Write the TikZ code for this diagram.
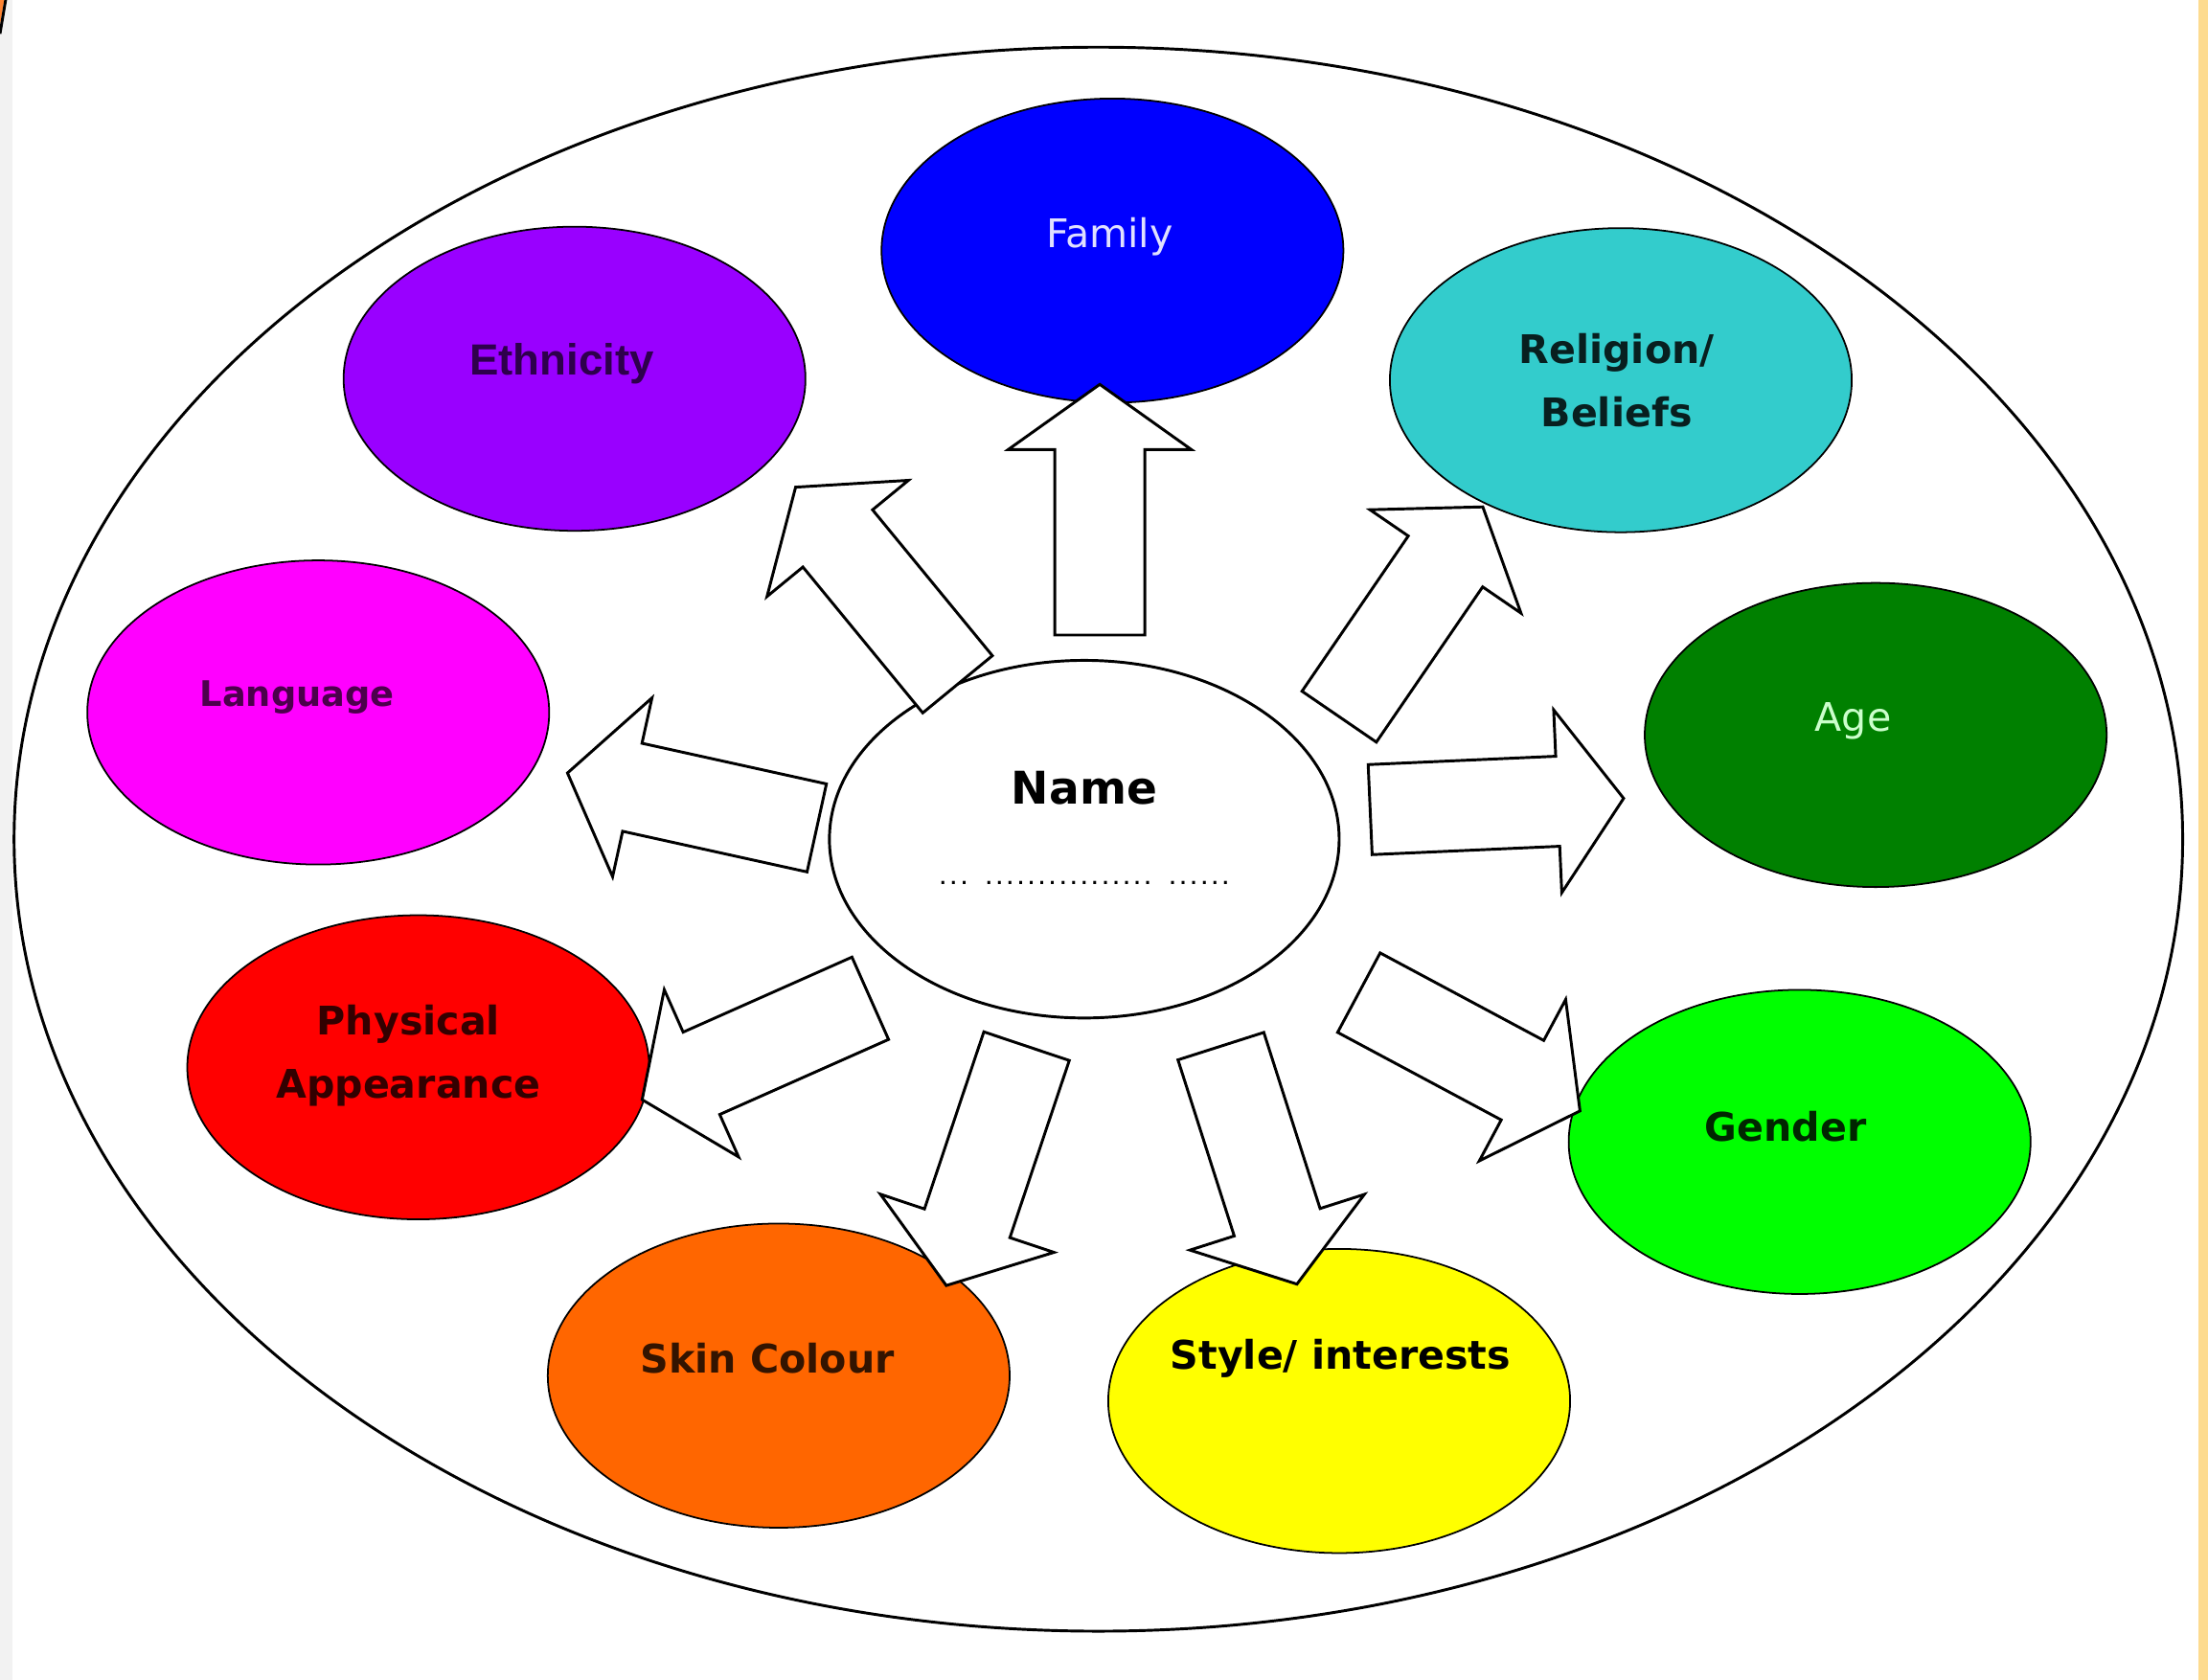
\documentclass[tikz,border=0pt]{standalone}
\usepackage{fontspec}
\setmainfont{DejaVu Sans}
\newfontfamily\arialfont{Liberation Sans}
\newfontfamily\dotsfont{DejaVu Sans Mono}
\usetikzlibrary{shapes.geometric, calc, positioning}

\definecolor{familyblue}{HTML}{0000FF}
\definecolor{ethnicpurple}{HTML}{9900FF}
\definecolor{religionteal}{HTML}{33CCCC}
\definecolor{languagepink}{HTML}{FF00FF}
\definecolor{agegreen}{HTML}{008000}
\definecolor{physicalred}{HTML}{FF0000}
\definecolor{gendergreen}{HTML}{00FF00}
\definecolor{skinorange}{HTML}{FF6600}
\definecolor{styleyellow}{HTML}{FFFF00}
\definecolor{edgegray}{HTML}{F2F2F2}
\definecolor{edgeorange}{HTML}{FDDB8F}

\tikzset{
   bubble/.style={
     ellipse, draw=black, line width=1.2pt,
     minimum width=328pt, minimum height=216pt, inner sep=0pt
   },
   tag/.style={
     font=\fontsize{28}{45}\selectfont\bfseries, align=center, inner sep=0pt
   },
   lighttag/.style={
     tag, font=\fontsize{28}{45}\selectfont
   },
   fatline/.style={draw=black, fill=white, line width=2pt, line join=miter},
   rimline/.style={draw=black, line width=2pt}
}

% block arrow from tail to tip
\newcommand{\fatarrow}[2]{%
  \path ($(#1)!0.74!(#2)$) coordinate (fa-h);
  \draw[fatline] ($(#1)!32pt!90:(#2)$) -- ($(fa-h)!32pt!90:(#2)$)
     -- ($(fa-h)!65pt!90:(#2)$) -- (#2) -- ($(fa-h)!65pt!-90:(#2)$)
     -- ($(fa-h)!32pt!-90:(#2)$) -- ($(#1)!32pt!-90:(#2)$) -- cycle;
}

\begin{document}
\begin{tikzpicture}[x=1pt, y=-1pt]
   \useasboundingbox (0,0) rectangle (1568,1193);
   \fill[white] (0,0) rectangle (1568,1193);
   \fill[edgegray] (0,0) rectangle (9,1193);
   \fill[edgeorange] (1561,0) rectangle (1568,1193);
   \fill[skinorange!80] (0,0) -- (3,0) -- (0,18) -- cycle;
   \draw[line width=2pt] (0,24) -- (4,0);

   % outer ring
   \node[ellipse, rimline, minimum width=1540pt, minimum height=1125pt, inner sep=0pt] (ring) at (780,596) {};

   % bubbles
   \node[bubble, fill=familyblue](family) at (790,178) {};
   \node[bubble, fill=ethnicpurple](ethnicity) at (408,269) {};
   \node[bubble, fill=religionteal](religion) at (1151,270) {};
   \node[bubble, fill=languagepink](language) at (226,506) {};
   \node[bubble, fill=agegreen](age) at (1332,522) {};
   \node[bubble, fill=physicalred](physical) at (297,758) {};
   \node[bubble, fill=gendergreen](gender) at (1278,811) {};
   \node[bubble, fill=skinorange](skin) at (553,977) {};
   \node[bubble, fill=styleyellow](style) at (951,995) {};
   \node[tag, bubble, fill=white, line width=2pt, minimum width=362pt, minimum height=254pt,
         font=\fontsize{32}{57}\selectfont\bfseries](name) at (770,596)
         {Name\\{\dotsfont\fontsize{12.5}{14}\selectfont ... ................ ......\rule[-16pt]{0pt}{0pt}}};

   % arrow ends
   \coordinate (t-family) at (781,451);    \coordinate (h-family) at (781,273);
   \coordinate (t-ethnicity) at (680,486); \coordinate (h-ethnicity) at (565,346);
   \coordinate (t-religion) at (951,509);  \coordinate (h-religion) at (1053,360);
   \coordinate (t-language) at (580,588);  \coordinate (h-language) at (403,549);
   \coordinate (t-age) at (973,575);       \coordinate (h-age) at (1153,567);
   \coordinate (t-physical) at (618,709);  \coordinate (h-physical) at (456,781);
   \coordinate (t-skin) at (729,743);      \coordinate (h-skin) at (672,913);
   \coordinate (t-style) at (867,743);     \coordinate (h-style) at (921,912);
   \coordinate (t-gender) at (965,705);    \coordinate (h-gender) at (1122,789);

   \foreach \k in {family, ethnicity, religion, language, age, physical, skin, style, gender}
      {\fatarrow{t-\k}{h-\k}}

   % labels
   \node[lighttag, text=white!88!blue](family-t) at ($(family)+(-2,-10)$) {Family};
   \node[tag, font=\fontsize{31}{40}\selectfont\bfseries\arialfont, text=black!70!ethnicpurple](ethnicity-t) at ($(ethnicity)+(-9,-11)$) {Ethnicity};
   \node[tag, text=black!85!religionteal](religion-t) at ($(religion)+(-3,0)$) {Religion/\\Beliefs};
   \node[tag, font=\fontsize{25}{40}\selectfont\bfseries, text=black!70!languagepink](language-t) at ($(language)+(-15,-11)$) {Language};
   \node[lighttag, text=white!80!green](age-t) at ($(age)+(-16,-10)$) {Age};
   \node[tag, text=black!80!physicalred](physical-t) at ($(physical)+(-7,-8)$) {Physical\\Appearance};
   \node[tag, text=black!85!gendergreen](gender-t) at ($(gender)+(-10,-11)$) {Gender};
   \node[tag, text=black!80!skinorange](skin-t) at ($(skin)+(-8,-12)$) {Skin Colour};
   \node[tag, text=black](style-t) at ($(style)+(1,-30)$) {Style/ interests};
\end{tikzpicture}
\end{document}
